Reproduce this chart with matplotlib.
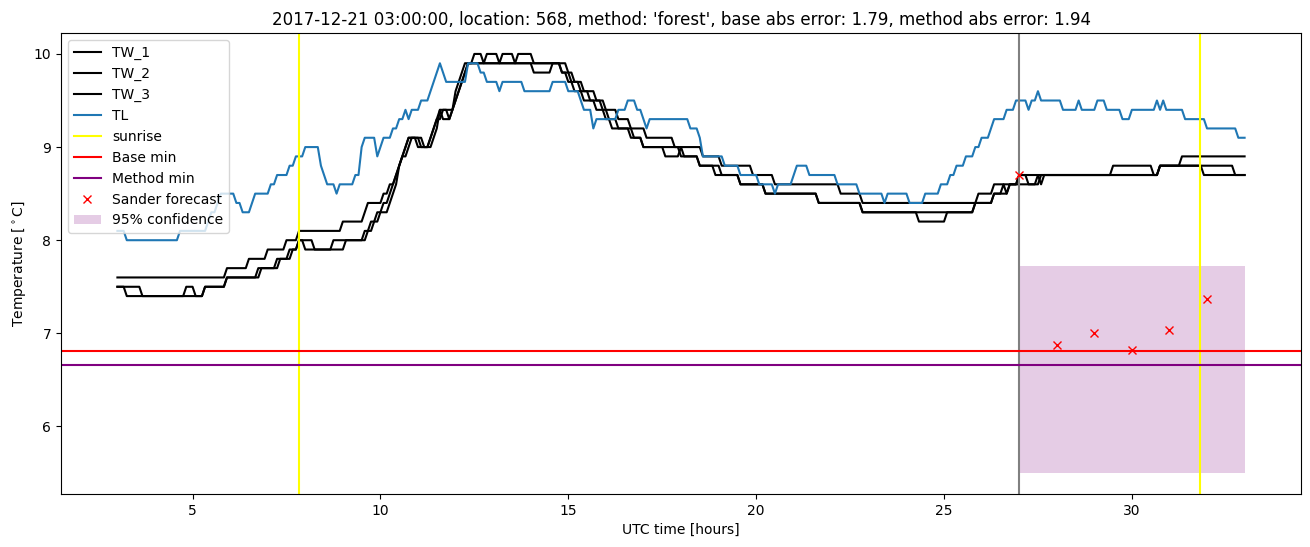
import numpy as np
import matplotlib
matplotlib.use("Agg")
import matplotlib.pyplot as plt

# 5-minute samples, 03:00 on day 1 to 09:00 on day 2 (hours since midnight)
hours = 3 + np.arange(361) / 12

# one row = one hour (12 samples)
tw_1 = [
    7.6, 7.6, 7.6, 7.6, 7.6, 7.6, 7.6, 7.6, 7.6, 7.6, 7.6, 7.6,
    7.6, 7.6, 7.6, 7.6, 7.6, 7.6, 7.6, 7.6, 7.6, 7.6, 7.6, 7.6,
    7.6, 7.6, 7.6, 7.6, 7.6, 7.6, 7.6, 7.6, 7.6, 7.6, 7.6, 7.7,
    7.7, 7.7, 7.7, 7.7, 7.7, 7.7, 7.8, 7.8, 7.8, 7.8, 7.8, 7.8,
    7.9, 7.9, 7.9, 7.9, 7.9, 7.9, 8.0, 8.0, 8.0, 8.0, 8.1, 8.1,
    8.1, 8.1, 8.1, 8.1, 8.1, 8.1, 8.1, 8.1, 8.1, 8.1, 8.1, 8.1,
    8.2, 8.2, 8.2, 8.2, 8.2, 8.2, 8.2, 8.3, 8.4, 8.4, 8.4, 8.4,
    8.4, 8.5, 8.5, 8.6, 8.6, 8.7, 8.8, 8.9, 8.9, 9.0, 9.1, 9.1,
    9.1, 9.1, 9.0, 9.0, 9.0, 9.1, 9.2, 9.4, 9.3, 9.3, 9.3, 9.4,
    9.5, 9.6, 9.7, 9.8, 9.9, 9.9, 10.0, 10.0, 10.0, 9.9, 10.0, 10.0,
    10.0, 10.0, 9.9, 10.0, 10.0, 10.0, 10.0, 9.9, 10.0, 10.0, 10.0, 10.0,
    10.0, 9.9, 9.9, 9.9, 9.9, 9.9, 9.9, 9.9, 9.9, 9.9, 9.9, 9.9,
    9.8, 9.8, 9.7, 9.7, 9.7, 9.6, 9.6, 9.6, 9.6, 9.5, 9.5, 9.5,
    9.4, 9.4, 9.4, 9.4, 9.3, 9.3, 9.3, 9.3, 9.2, 9.2, 9.2, 9.2,
    9.2, 9.1, 9.1, 9.1, 9.1, 9.1, 9.1, 9.1, 9.1, 9.1, 9.0, 9.0,
    9.0, 9.0, 9.0, 9.0, 9.0, 9.0, 9.0, 8.9, 8.9, 8.9, 8.9, 8.9,
    8.9, 8.8, 8.8, 8.8, 8.8, 8.8, 8.8, 8.8, 8.8, 8.8, 8.8, 8.7,
    8.7, 8.7, 8.7, 8.7, 8.7, 8.7, 8.6, 8.6, 8.6, 8.6, 8.6, 8.6,
    8.6, 8.6, 8.6, 8.6, 8.6, 8.6, 8.6, 8.6, 8.6, 8.6, 8.6, 8.6,
    8.6, 8.6, 8.6, 8.5, 8.5, 8.5, 8.5, 8.5, 8.5, 8.5, 8.4, 8.4,
    8.4, 8.4, 8.4, 8.4, 8.4, 8.4, 8.4, 8.4, 8.4, 8.4, 8.4, 8.4,
    8.4, 8.4, 8.4, 8.4, 8.4, 8.4, 8.4, 8.4, 8.4, 8.4, 8.4, 8.4,
    8.4, 8.4, 8.4, 8.4, 8.4, 8.4, 8.4, 8.4, 8.4, 8.4, 8.4, 8.5,
    8.5, 8.5, 8.5, 8.5, 8.6, 8.6, 8.6, 8.6, 8.6, 8.6, 8.6, 8.6,
    8.7, 8.7, 8.7, 8.7, 8.7, 8.7, 8.7, 8.7, 8.7, 8.7, 8.7, 8.7,
    8.7, 8.7, 8.7, 8.7, 8.7, 8.7, 8.7, 8.7, 8.7, 8.7, 8.7, 8.7,
    8.7, 8.7, 8.7, 8.7, 8.7, 8.7, 8.8, 8.8, 8.8, 8.8, 8.8, 8.8,
    8.8, 8.8, 8.8, 8.8, 8.8, 8.8, 8.8, 8.7, 8.7, 8.8, 8.8, 8.8,
    8.8, 8.8, 8.8, 8.8, 8.8, 8.8, 8.8, 8.8, 8.8, 8.8, 8.8, 8.8,
    8.8, 8.8, 8.8, 8.8, 8.8, 8.8, 8.8, 8.8, 8.8, 8.7, 8.7, 8.7,
    8.7,
]

tw_2 = [
    7.5, 7.5, 7.5, 7.4, 7.4, 7.4, 7.4, 7.4, 7.4, 7.4, 7.4, 7.4,
    7.4, 7.4, 7.4, 7.4, 7.4, 7.4, 7.4, 7.4, 7.4, 7.4, 7.5, 7.5,
    7.5, 7.4, 7.4, 7.4, 7.5, 7.5, 7.5, 7.5, 7.5, 7.5, 7.5, 7.6,
    7.6, 7.6, 7.6, 7.6, 7.6, 7.6, 7.6, 7.6, 7.6, 7.7, 7.7, 7.7,
    7.7, 7.7, 7.7, 7.8, 7.8, 7.8, 7.8, 7.9, 7.9, 7.9, 8.0, 8.0,
    8.0, 8.0, 8.0, 7.9, 7.9, 7.9, 7.9, 7.9, 7.9, 8.0, 8.0, 8.0,
    8.0, 8.0, 8.0, 8.0, 8.0, 8.0, 8.0, 8.1, 8.1, 8.2, 8.2, 8.2,
    8.3, 8.3, 8.3, 8.4, 8.5, 8.6, 8.8, 8.9, 9.0, 9.1, 9.1, 9.1,
    9.1, 9.0, 9.0, 9.0, 9.1, 9.2, 9.3, 9.4, 9.4, 9.4, 9.3, 9.4,
    9.6, 9.7, 9.8, 9.9, 9.9, 9.9, 9.9, 9.9, 9.9, 9.9, 9.9, 9.9,
    9.9, 9.9, 9.9, 9.9, 9.9, 9.9, 9.9, 9.9, 9.9, 9.9, 9.9, 9.9,
    9.9, 9.8, 9.8, 9.8, 9.8, 9.8, 9.8, 9.9, 9.9, 9.9, 9.8, 9.8,
    9.8, 9.7, 9.7, 9.7, 9.6, 9.6, 9.6, 9.5, 9.5, 9.5, 9.5, 9.4,
    9.4, 9.3, 9.3, 9.3, 9.2, 9.2, 9.2, 9.2, 9.2, 9.1, 9.1, 9.1,
    9.0, 9.0, 9.0, 9.0, 9.0, 9.0, 9.0, 8.9, 8.9, 8.9, 8.9, 8.9,
    9.0, 8.9, 8.9, 8.9, 8.9, 8.9, 8.8, 8.8, 8.8, 8.8, 8.8, 8.8,
    8.8, 8.7, 8.7, 8.7, 8.7, 8.7, 8.7, 8.6, 8.6, 8.6, 8.6, 8.6,
    8.6, 8.6, 8.6, 8.5, 8.5, 8.5, 8.5, 8.5, 8.5, 8.5, 8.5, 8.5,
    8.5, 8.5, 8.5, 8.5, 8.5, 8.5, 8.5, 8.5, 8.4, 8.4, 8.4, 8.4,
    8.4, 8.4, 8.4, 8.4, 8.4, 8.4, 8.4, 8.4, 8.4, 8.4, 8.3, 8.3,
    8.3, 8.3, 8.3, 8.3, 8.3, 8.3, 8.3, 8.3, 8.3, 8.3, 8.3, 8.3,
    8.3, 8.3, 8.3, 8.3, 8.2, 8.2, 8.2, 8.2, 8.2, 8.2, 8.2, 8.2,
    8.2, 8.3, 8.3, 8.3, 8.3, 8.3, 8.3, 8.3, 8.3, 8.3, 8.4, 8.4,
    8.4, 8.4, 8.4, 8.4, 8.5, 8.5, 8.5, 8.6, 8.5, 8.6, 8.6, 8.6,
    8.7, 8.7, 8.7, 8.6, 8.6, 8.6, 8.6, 8.7, 8.7, 8.7, 8.7, 8.7,
    8.7, 8.7, 8.7, 8.7, 8.7, 8.7, 8.7, 8.7, 8.7, 8.7, 8.7, 8.7,
    8.7, 8.7, 8.7, 8.7, 8.7, 8.7, 8.7, 8.7, 8.7, 8.7, 8.7, 8.7,
    8.7, 8.7, 8.7, 8.7, 8.7, 8.7, 8.7, 8.7, 8.7, 8.8, 8.8, 8.8,
    8.8, 8.8, 8.8, 8.8, 8.9, 8.9, 8.9, 8.9, 8.9, 8.9, 8.9, 8.9,
    8.9, 8.9, 8.9, 8.9, 8.9, 8.9, 8.9, 8.9, 8.9, 8.9, 8.9, 8.9,
    8.9,
]

tw_3 = [
    7.5, 7.5, 7.5, 7.5, 7.5, 7.5, 7.5, 7.5, 7.4, 7.4, 7.4, 7.4,
    7.4, 7.4, 7.4, 7.4, 7.4, 7.4, 7.4, 7.4, 7.4, 7.4, 7.4, 7.4,
    7.4, 7.4, 7.4, 7.4, 7.5, 7.5, 7.5, 7.5, 7.5, 7.5, 7.5, 7.6,
    7.6, 7.6, 7.6, 7.6, 7.6, 7.6, 7.6, 7.6, 7.6, 7.6, 7.7, 7.7,
    7.7, 7.7, 7.7, 7.7, 7.8, 7.8, 7.8, 7.8, 7.9, 7.9, 8.0, 8.0,
    7.9, 7.9, 7.9, 7.9, 7.9, 7.9, 7.9, 7.9, 7.9, 7.9, 7.9, 7.9,
    7.9, 8.0, 8.0, 8.0, 8.0, 8.0, 8.0, 8.0, 8.1, 8.1, 8.2, 8.3,
    8.3, 8.4, 8.4, 8.5, 8.6, 8.7, 8.8, 8.9, 9.0, 9.1, 9.1, 9.1,
    9.0, 9.0, 9.0, 9.0, 9.1, 9.2, 9.3, 9.3, 9.4, 9.4, 9.4, 9.4,
    9.5, 9.6, 9.7, 9.8, 9.9, 9.9, 9.9, 9.9, 9.9, 9.9, 9.9, 9.9,
    9.9, 9.9, 9.9, 9.9, 9.9, 9.9, 9.9, 9.9, 9.9, 9.9, 9.9, 9.9,
    9.9, 9.9, 9.9, 9.9, 9.9, 9.9, 9.9, 9.9, 9.9, 9.9, 9.8, 9.8,
    9.7, 9.7, 9.6, 9.6, 9.6, 9.5, 9.5, 9.5, 9.5, 9.4, 9.4, 9.4,
    9.3, 9.3, 9.2, 9.2, 9.2, 9.2, 9.2, 9.2, 9.1, 9.1, 9.1, 9.1,
    9.0, 9.0, 9.0, 9.0, 9.0, 9.0, 9.0, 9.0, 9.0, 9.0, 9.0, 9.0,
    8.9, 8.9, 8.9, 8.9, 8.9, 8.9, 8.8, 8.8, 8.8, 8.8, 8.8, 8.7,
    8.7, 8.7, 8.7, 8.7, 8.7, 8.7, 8.7, 8.6, 8.6, 8.6, 8.6, 8.6,
    8.6, 8.6, 8.6, 8.5, 8.5, 8.5, 8.5, 8.5, 8.5, 8.5, 8.5, 8.5,
    8.5, 8.5, 8.5, 8.5, 8.5, 8.5, 8.5, 8.5, 8.4, 8.4, 8.4, 8.4,
    8.4, 8.4, 8.4, 8.4, 8.4, 8.4, 8.4, 8.4, 8.4, 8.4, 8.3, 8.3,
    8.3, 8.3, 8.3, 8.3, 8.3, 8.3, 8.3, 8.3, 8.3, 8.3, 8.3, 8.3,
    8.3, 8.3, 8.3, 8.3, 8.3, 8.3, 8.3, 8.3, 8.3, 8.3, 8.3, 8.3,
    8.3, 8.3, 8.3, 8.3, 8.3, 8.3, 8.3, 8.3, 8.3, 8.3, 8.4, 8.4,
    8.4, 8.4, 8.4, 8.4, 8.5, 8.5, 8.5, 8.5, 8.5, 8.6, 8.6, 8.6,
    8.6, 8.6, 8.6, 8.6, 8.6, 8.6, 8.7, 8.6, 8.7, 8.7, 8.7, 8.7,
    8.7, 8.7, 8.7, 8.7, 8.7, 8.7, 8.7, 8.7, 8.7, 8.7, 8.7, 8.7,
    8.7, 8.7, 8.7, 8.7, 8.7, 8.7, 8.7, 8.7, 8.7, 8.7, 8.7, 8.7,
    8.7, 8.7, 8.7, 8.7, 8.7, 8.7, 8.7, 8.7, 8.7, 8.8, 8.8, 8.8,
    8.8, 8.8, 8.8, 8.8, 8.8, 8.8, 8.8, 8.8, 8.8, 8.8, 8.8, 8.7,
    8.7, 8.7, 8.7, 8.7, 8.7, 8.7, 8.7, 8.7, 8.7, 8.7, 8.7, 8.7,
    8.7,
]

tl = [
    8.1, 8.1, 8.1, 8.0, 8.0, 8.0, 8.0, 8.0, 8.0, 8.0, 8.0, 8.0,
    8.0, 8.0, 8.0, 8.0, 8.0, 8.0, 8.0, 8.0, 8.1, 8.1, 8.1, 8.1,
    8.1, 8.1, 8.1, 8.1, 8.1, 8.2, 8.3, 8.3, 8.4, 8.5, 8.5, 8.5,
    8.5, 8.5, 8.4, 8.4, 8.3, 8.3, 8.3, 8.4, 8.5, 8.5, 8.5, 8.5,
    8.5, 8.6, 8.6, 8.7, 8.7, 8.7, 8.7, 8.8, 8.8, 8.9, 8.9, 8.9,
    9.0, 9.0, 9.0, 9.0, 9.0, 8.8, 8.7, 8.6, 8.6, 8.6, 8.5, 8.6,
    8.6, 8.6, 8.6, 8.6, 8.7, 8.7, 9.0, 9.1, 9.1, 9.1, 9.1, 8.9,
    9.0, 9.1, 9.1, 9.1, 9.2, 9.2, 9.3, 9.3, 9.4, 9.3, 9.4, 9.4,
    9.4, 9.5, 9.5, 9.5, 9.6, 9.7, 9.8, 9.9, 9.8, 9.7, 9.7, 9.7,
    9.7, 9.7, 9.7, 9.7, 9.9, 9.9, 9.9, 9.9, 9.8, 9.8, 9.7, 9.7,
    9.7, 9.7, 9.6, 9.7, 9.7, 9.7, 9.7, 9.7, 9.7, 9.7, 9.6, 9.6,
    9.6, 9.6, 9.6, 9.6, 9.6, 9.6, 9.6, 9.7, 9.7, 9.7, 9.7, 9.7,
    9.6, 9.6, 9.6, 9.6, 9.5, 9.4, 9.4, 9.4, 9.2, 9.3, 9.3, 9.3,
    9.3, 9.3, 9.3, 9.3, 9.4, 9.4, 9.4, 9.5, 9.5, 9.5, 9.4, 9.4,
    9.3, 9.2, 9.3, 9.3, 9.3, 9.3, 9.3, 9.3, 9.3, 9.3, 9.3, 9.3,
    9.3, 9.3, 9.3, 9.2, 9.2, 9.2, 9.1, 8.9, 8.9, 8.9, 8.9, 8.9,
    8.9, 8.9, 8.8, 8.8, 8.8, 8.8, 8.8, 8.7, 8.7, 8.7, 8.7, 8.7,
    8.7, 8.6, 8.6, 8.6, 8.6, 8.6, 8.5, 8.6, 8.6, 8.6, 8.6, 8.6,
    8.7, 8.8, 8.8, 8.8, 8.8, 8.7, 8.7, 8.7, 8.7, 8.7, 8.7, 8.7,
    8.7, 8.7, 8.6, 8.6, 8.6, 8.6, 8.6, 8.6, 8.6, 8.5, 8.5, 8.5,
    8.5, 8.5, 8.5, 8.5, 8.5, 8.4, 8.5, 8.5, 8.5, 8.5, 8.5, 8.5,
    8.5, 8.4, 8.4, 8.4, 8.4, 8.4, 8.5, 8.5, 8.5, 8.5, 8.5, 8.6,
    8.6, 8.6, 8.7, 8.7, 8.8, 8.8, 8.8, 8.9, 8.9, 8.9, 9.0, 9.0,
    9.1, 9.1, 9.1, 9.2, 9.3, 9.3, 9.3, 9.3, 9.4, 9.4, 9.4, 9.5,
    9.5, 9.5, 9.5, 9.4, 9.5, 9.5, 9.6, 9.5, 9.5, 9.5, 9.5, 9.5,
    9.5, 9.5, 9.4, 9.4, 9.4, 9.4, 9.4, 9.5, 9.4, 9.4, 9.4, 9.4,
    9.4, 9.5, 9.5, 9.5, 9.4, 9.4, 9.4, 9.4, 9.4, 9.3, 9.3, 9.3,
    9.4, 9.4, 9.4, 9.4, 9.4, 9.4, 9.4, 9.4, 9.5, 9.4, 9.5, 9.4,
    9.4, 9.4, 9.4, 9.4, 9.4, 9.3, 9.3, 9.3, 9.3, 9.3, 9.3, 9.3,
    9.2, 9.2, 9.2, 9.2, 9.2, 9.2, 9.2, 9.2, 9.2, 9.2, 9.1, 9.1,
    9.1,
]

sunrise_hours = [7.82, 31.82]
forecast_start = 27
base_min = 6.815
method_min = 6.665
forecast_hours = [27, 28, 29, 30, 31, 32]
forecast_temp = [8.70, 6.88, 7.00, 6.82, 7.04, 7.37]
conf_hours = [27, 33]
conf_low = 5.5
conf_high = 7.72

fig, ax = plt.subplots(figsize=(13.1, 5.47), dpi=100)
fig.subplots_adjust(left=0.0466, right=0.9931, top=0.9397, bottom=0.0969)

ax.plot(hours, tw_1, color="black", label="TW_1")
ax.plot(hours, tw_2, color="black", label="TW_2")
ax.plot(hours, tw_3, color="black", label="TW_3")
ax.plot(hours, tl, color="C0", label="TL")
ax.axvline(sunrise_hours[0], color="yellow", label="sunrise")
ax.axvline(sunrise_hours[1], color="yellow")
ax.axvline(forecast_start, color="grey")
ax.axhline(base_min, color="red", label="Base min")
ax.axhline(method_min, color="purple", label="Method min")
ax.plot(forecast_hours, forecast_temp, "rx", label="Sander forecast")
ax.fill_between(conf_hours, conf_low, conf_high, color="purple", alpha=0.2,
                linewidth=0, label="95% confidence")

ax.set_xlabel("UTC time [hours]")
ax.set_ylabel("Temperature [$^\\circ$C]")
ax.set_title("2017-12-21 03:00:00, location: 568, method: 'forest', "
             "base abs error: 1.79, method abs error: 1.94")
ax.legend(loc="upper left")

fig.savefig("out.png")
